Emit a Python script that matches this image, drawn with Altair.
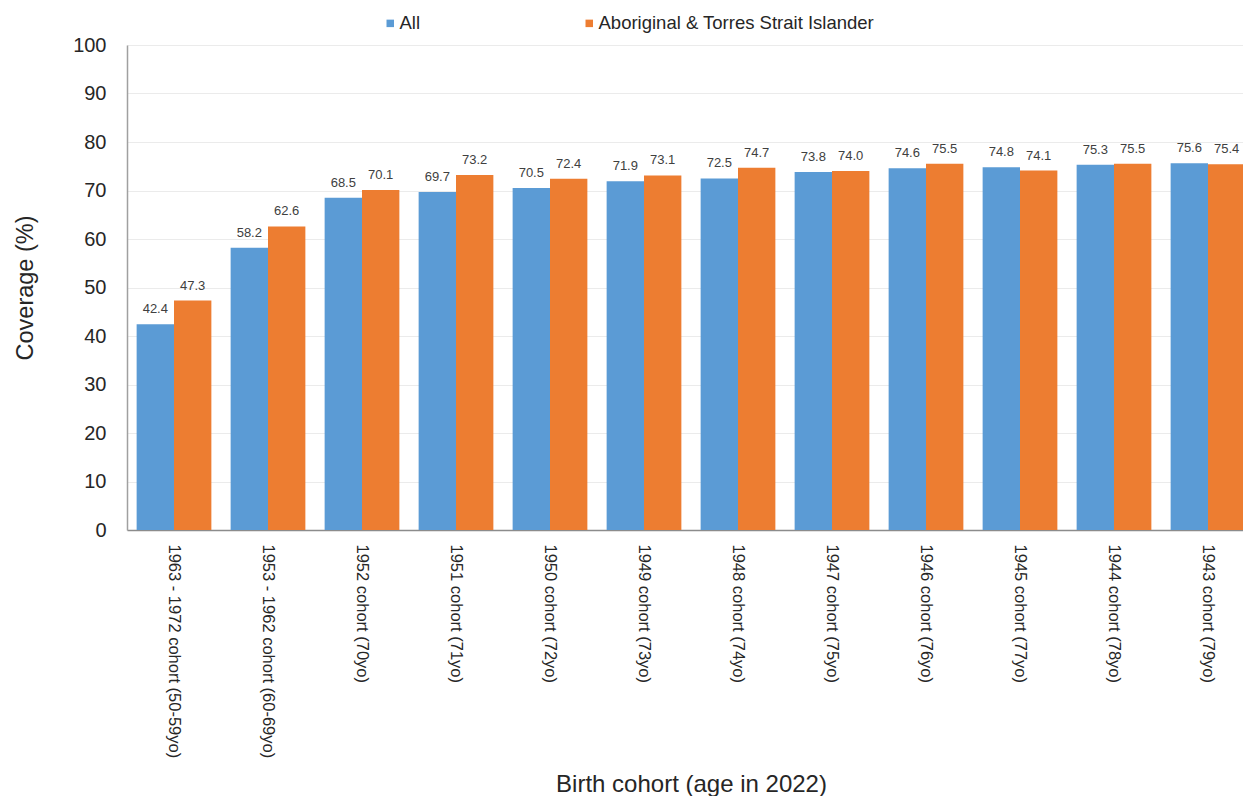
import altair as alt
import pandas as pd

cohorts = [
    "1963 - 1972 cohort (50-59yo)",
    "1953 - 1962 cohort (60-69yo)",
    "1952 cohort (70yo)",
    "1951 cohort (71yo)",
    "1950 cohort (72yo)",
    "1949 cohort (73yo)",
    "1948 cohort (74yo)",
    "1947 cohort (75yo)",
    "1946 cohort (76yo)",
    "1945 cohort (77yo)",
    "1944 cohort (78yo)",
    "1943 cohort (79yo)",
]
all_vals = [42.4, 58.2, 68.5, 69.7, 70.5, 71.9, 72.5, 73.8, 74.6, 74.8, 75.3, 75.6]
atsi_vals = [47.3, 62.6, 70.1, 73.2, 72.4, 73.1, 74.7, 74.0, 75.5, 74.1, 75.5, 75.4]
series = ["All", "Aboriginal & Torres Strait Islander"]
colors = ["#5B9BD5", "#ED7D31"]

rows = []
for c, a, b in zip(cohorts, all_vals, atsi_vals):
    rows.append({"cohort": c, "series": series[0], "value": a})
    rows.append({"cohort": c, "series": series[1], "value": b})
df = pd.DataFrame(rows)

FONT = "Liberation Sans"
PLOT_W = 1128

x = alt.X(
    "cohort:N",
    sort=cohorts,
    title="Birth cohort (age in 2022)",
    scale=alt.Scale(paddingInner=0.205, paddingOuter=0.1025),
    axis=alt.Axis(
        labelAngle=90,
        labelAlign="left",
        labelBaseline="middle",
        labelFontSize=16.5,
        labelColor="#262626",
        labelPadding=14,
        labelLimit=400,
        ticks=False,
        domainColor="#8c8c8c",
        domainWidth=1.5,
        titleFontSize=24,
        titleFontWeight="normal",
        titleColor="#262626",
        titlePadding=42,
    ),
)
xo = alt.XOffset("series:N", sort=series)

base = alt.Chart(df)

bars = base.mark_bar(stroke=None).encode(
    x=x,
    xOffset=xo,
    y=alt.Y(
        "value:Q",
        title="Coverage (%)",
        scale=alt.Scale(domain=[0, 100], nice=False),
        axis=alt.Axis(
            values=list(range(0, 101, 10)),
            labelFontSize=20,
            labelColor="#262626",
            labelPadding=21,
            ticks=False,
            domainColor="#a0a0a0",
            domainWidth=1.5,
            gridColor="#ebebeb",
            gridWidth=1,
            titleFontSize=23.5,
            titleFontWeight="normal",
            titleColor="#262626",
            titlePadding=35,
        ),
    ),
    color=alt.Color(
        "series:N",
        sort=series,
        scale=alt.Scale(domain=series, range=colors),
        legend=alt.Legend(
            title=None,
            orient="none",
            legendX=254,
            legendY=-31,
            direction="horizontal",
            symbolType="square",
            symbolSize=56,
            symbolStrokeWidth=0,
            labelFontSize=18.5,
            labelColor="#262626",
            labelLimit=500,
            columnPadding=159,
            labelOffset=0,
        ),
    ),
)

labels = base.mark_text(
    baseline="bottom", dy=-8, fontSize=13, color="#404040", font=FONT
).encode(
    x=x,
    xOffset=xo,
    y="value:Q",
    text=alt.Text("value:Q", format=".1f"),
)

chart = (
    alt.layer(bars, labels)
    .properties(
        width=PLOT_W,
        height=485,
        autosize=alt.AutoSizeParams(type="none"),
        padding={"left": 119, "top": 37, "right": 1235 - 119 - PLOT_W, "bottom": 266},
    )
    .configure(font=FONT)
    .configure_view(stroke=None)
    .configure_axis(labelFont=FONT, titleFont=FONT)
    .configure_legend(labelFont=FONT)
)

chart.save("out.html", embed_options={"renderer": "svg", "actions": False})
